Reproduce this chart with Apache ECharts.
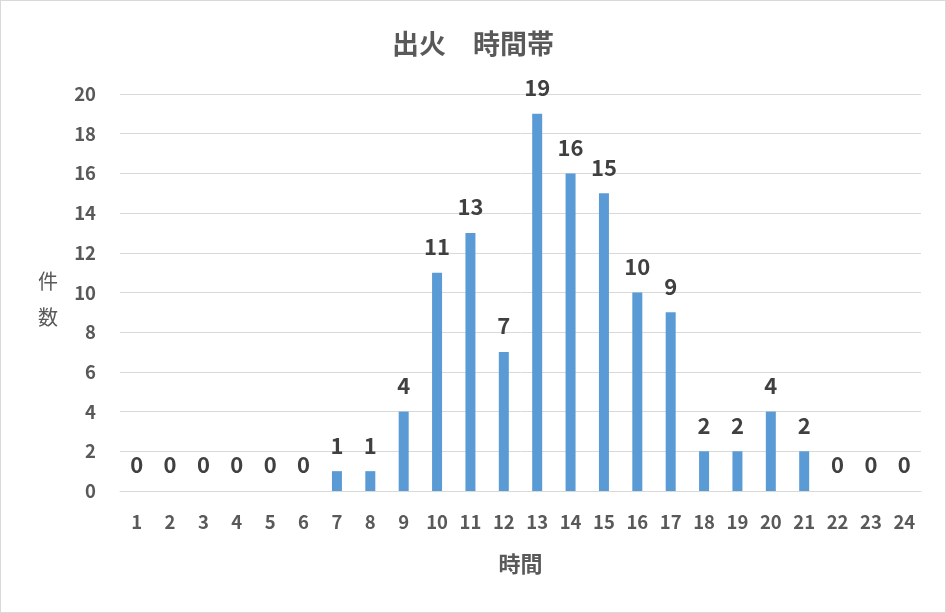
<!DOCTYPE html>
<html><head><meta charset="utf-8">
<script src="https://cdn.jsdelivr.net/npm/echarts@6/dist/echarts.min.js"></script>
<style>html,body{margin:0;padding:0;background:#fff}#c{width:946px;height:613px;box-sizing:border-box;border:1px solid #d9d9d9}</style>
</head><body><div id="c"></div>
<script>
const categories = ['1','2','3','4','5','6','7','8','9','10','11','12','13','14','15','16','17','18','19','20','21','22','23','24'];
const counts = [0,0,0,0,0,0,1,1,4,11,13,7,19,16,15,10,9,2,2,4,2,0,0,0];
const titleText = '出火　時間帯';
const xName = '時間';
const yNameChars = ['件', '数'];
const font = '"Noto Sans CJK JP", "Open Sans", sans-serif';
const yName = '{s|}\n' + yNameChars.map(c => '{t|' + c + '}').join('\n');
const chart = echarts.init(document.getElementById('c'));
chart.setOption({
  animation: false,
  title: {text: titleText, left: 'center', top: 24, textStyle: {fontFamily: font, fontSize: 27, fontWeight: 'bold', color: '#595959'}},
  grid: {left: 119, right: 24, top: 93, bottom: 121, containLabel: false},
  xAxis: {type: 'category', data: categories, name: xName, nameLocation: 'middle', nameGap: 62,
    nameTextStyle: {fontFamily: font, fontSize: 22, fontWeight: 'bold', color: '#595959'},
    axisLine: {lineStyle: {color: '#d9d9d9', width: 1}}, axisTick: {show: false},
    axisLabel: {fontFamily: font, fontSize: 18.5, fontWeight: 'bold', color: '#595959', margin: 22, interval: 0}},
  yAxis: {type: 'value', min: 0, max: 20, interval: 2, name: yName, nameLocation: 'middle', nameGap: 62, nameRotate: 0,
    nameTextStyle: {fontFamily: font, fontSize: 20, color: '#595959',
      rich: {s: {lineHeight: 14, fontSize: 1}, t: {fontFamily: font, fontSize: 20, fontWeight: 'normal', color: '#595959', lineHeight: 36}}},
    axisLine: {show: false}, axisTick: {show: false},
    splitLine: {lineStyle: {color: '#d9d9d9', width: 1}},
    axisLabel: {fontFamily: font, fontSize: 18.5, fontWeight: 'bold', color: '#595959', margin: 24}},
  series: [{type: 'bar', data: counts, barWidth: 10, itemStyle: {color: '#5b9bd5'},
    label: {show: true, position: 'top', distance: 15, fontFamily: font, fontSize: 22, fontWeight: 'bold', color: '#404040'}}]
});
</script></body></html>
